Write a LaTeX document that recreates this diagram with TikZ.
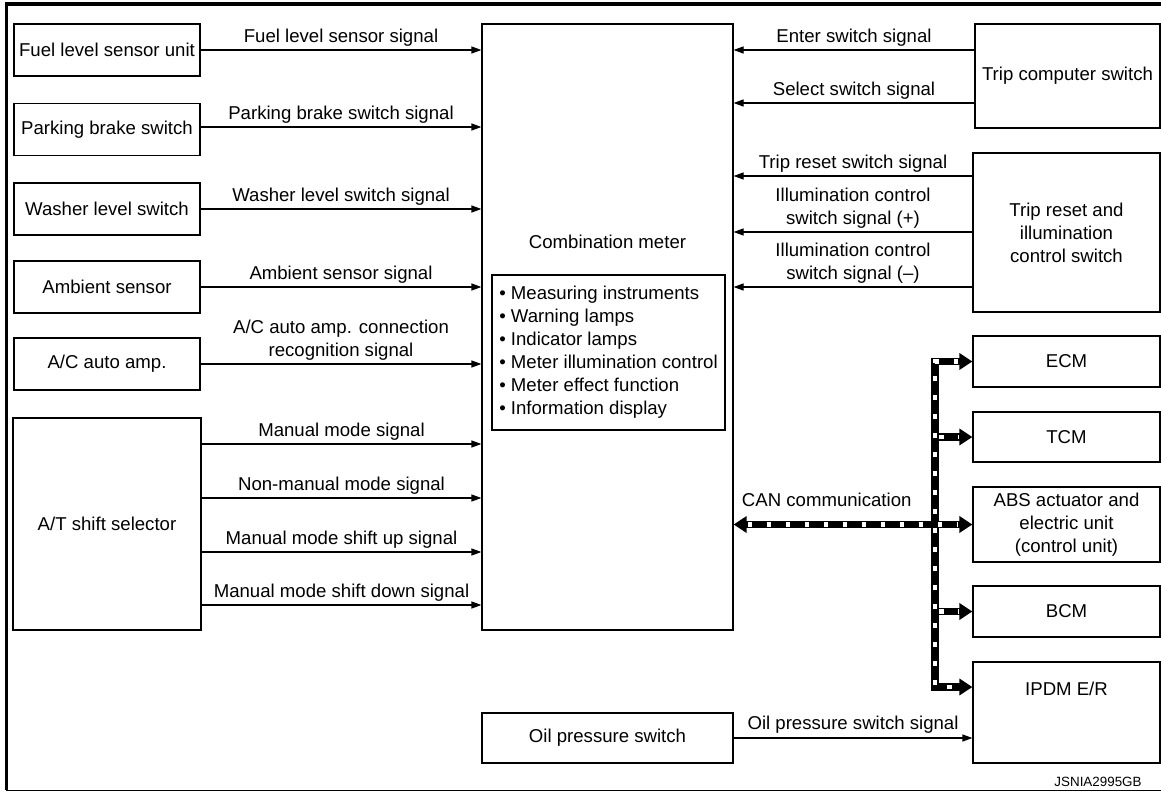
\documentclass[tikz,border=0pt]{standalone}
\usepackage{fontspec}
\setmainfont{Liberation Sans}
\usetikzlibrary{arrows.meta}
\begin{document}
\begin{tikzpicture}[x=0.5pt,y=-0.5pt,
  every node/.style={font=\fontsize{9.3}{11.5}\selectfont, inner sep=0pt},
  box/.style={draw, line width=0.6pt, align=center},
  sz/.style 2 args={minimum width=#1*0.5pt, minimum height=#2*0.5pt},
  sig/.style={line width=0.6pt, -{Triangle[length=5pt,width=3.5pt]}},
  lab/.style={midway, above=1.25pt, text depth=2pt, align=center},
  cantip/.tip={Triangle[length=6.5pt,width=8pt]},
  canb/.style={line width=3.6pt, line join=miter, black},
  canw/.style={line width=2.1pt, white, dash pattern=on 2.4pt off 7.1pt}
]
\useasboundingbox (0,0) rectangle (1161,792);
% frame
\draw[line width=1.75pt] (5,4) -- (1161,4);
\draw[line width=1.5pt] (6.5,3) -- (6.5,790);
\draw[line width=0.5pt] (6,790) -- (1161,790);

% left boxes
\node[box, sz={186}{52}] (fuel) at (107,50) {Fuel level sensor unit};
\node[box, sz={186}{52}] (park) at (107,129.5) {Parking brake switch};
\node[box, sz={186}{52}] (wash) at (107,209) {Washer level switch};
\node[box, sz={186}{52}] (amb) at (107,287) {Ambient sensor};
\node[box, sz={186}{52}] (ac) at (107,364) {A/C auto amp.};
\node[box, sz={188}{212}] (at) at (107,524) {A/T shift selector};

% combination meter
\node[box, sz={251}{606}] (meter) at (607.5,327) {};
\node (mtext) at (607.5,242) {Combination meter};
\node[box, sz={233}{155}, align=left] (inner) at (608.5,352.5)
  {• Measuring instruments\\• Warning lamps\\• Indicator lamps\\• Meter illumination control\\• Meter effect function\\• Information display};

% right boxes
\node[box, sz={185}{104}] (tc) at (1067.5,76) {Trip computer switch};
\node[box, sz={187}{159}] (tr) at (1066.5,232.5) {Trip reset and\\illumination\\control switch};
\node[box, sz={187}{51}] (ecm) at (1066.5,361.5) {ECM};
\node[box, sz={187}{50}] (tcm) at (1066.5,437) {TCM};
\node[box, sz={187}{75}] (abs) at (1066.5,524.5) {ABS actuator and\\electric unit\\(control unit)};
\node[box, sz={187}{51}] (bcm) at (1066.5,611.5) {BCM};
\node[box, sz={187}{101}] (ipdm) at (1066.5,712.5) {};
\node (ipdmtext) at (1066.5,689) {IPDM E/R};
\node[box, sz={251}{50}] (oil) at (607.5,738) {Oil pressure switch};

\node[font=\fontsize{6.7}{8}\selectfont] (code) at (1098,782) {JSNIA2995GB};

% left signals
\draw[sig] (fuel.east) -- (fuel.east -| meter.west) node[lab] {Fuel level sensor signal};
\draw[sig] (park.east |- 0,127) -- (meter.west |- 0,127) node[lab] {Parking brake switch signal};
\draw[sig] (wash.east) -- (wash.east -| meter.west) node[lab] {Washer level switch signal};
\draw[sig] (amb.east) -- (amb.east -| meter.west) node[lab] {Ambient sensor signal};
\draw[sig] (ac.east) -- (ac.east -| meter.west) node[lab] {A/C auto amp. connection\\recognition signal};
\draw[sig] (at.east |- 0,444) -- (meter.west |- 0,444) node[lab] {Manual mode signal};
\draw[sig] (at.east |- 0,498) -- (meter.west |- 0,498) node[lab] {Non-manual mode signal};
\draw[sig] (at.east |- 0,552) -- (meter.west |- 0,552) node[lab] {Manual mode shift up signal};
\draw[sig] (at.east |- 0,605) -- (meter.west |- 0,605) node[lab] {Manual mode shift down signal};

% right signals
\draw[sig] (tc.west |- 0,50) -- (meter.east |- 0,50) node[lab] {Enter switch signal};
\draw[sig] (tc.west |- 0,103) -- (meter.east |- 0,103) node[lab] {Select switch signal};
\draw[sig] (tr.west |- 0,176) -- (meter.east |- 0,176) node[lab] {Trip reset switch signal};
\draw[sig] (tr.west |- 0,232) -- (meter.east |- 0,232) node[lab] {Illumination control\\switch signal (+)};
\draw[sig] (tr.west |- 0,287) -- (meter.east |- 0,287) node[lab] {Illumination control\\switch signal (–)};

% oil
\draw[sig] (oil.east) -- (oil.east -| ipdm.west) node[lab, above=0.5pt] {Oil pressure switch signal};

% CAN bus
\coordinate (bx) at (935,0);
\coordinate (ip) at (0,687);
\draw[canb, cantip-cantip] (meter.east |- abs.west) -- (abs.west)
  node[pos=0.39, above=5pt, text depth=2pt, black] {CAN communication};
\draw[canb, cantip-cantip] (ecm.west) -- (ecm.west -| bx) -- (bx |- ip) -- (ipdm.west |- ip);
\draw[canb, -cantip] (bx |- tcm.west) -- (tcm.west);
\draw[canb, -cantip] (bx |- bcm.west) -- (bcm.west);
\draw[canw, shorten <=7pt, shorten >=7pt] (meter.east |- abs.west) -- (abs.west);
\draw[canw, shorten <=7pt, shorten >=7pt] (ecm.west) -- (ecm.west -| bx) -- (bx |- ip) -- (ipdm.west |- ip);
\draw[canw, shorten <=2pt, shorten >=7pt] (bx |- tcm.west) -- (tcm.west);
\draw[canw, shorten <=2pt, shorten >=7pt] (bx |- bcm.west) -- (bcm.west);
\end{tikzpicture}
\end{document}
